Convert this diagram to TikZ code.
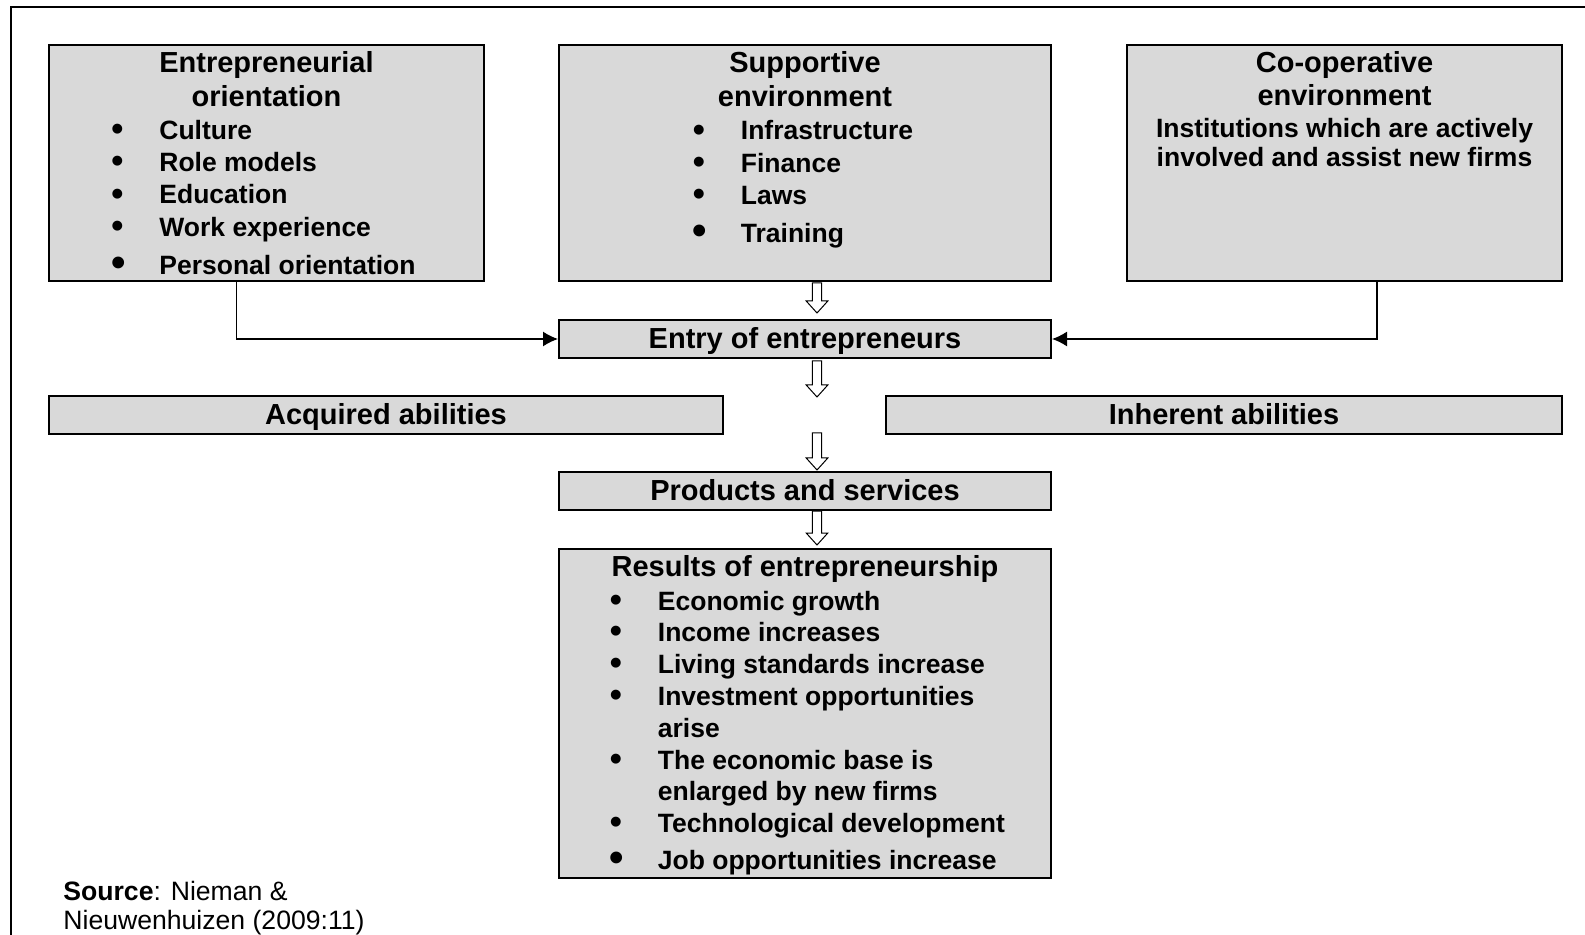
\documentclass[tikz,border=0pt]{standalone}
\usepackage{fontspec}
\setmainfont{Liberation Sans}
\usetikzlibrary{arrows.meta,positioning}

\definecolor{boxgray}{RGB}{217,217,217}
\newcommand\bul{\makebox[24pt][l]{\raisebox{-0.6pt}{\scalebox{1.3}{\textbullet}}}}
\newcommand\bigbul{\makebox[24pt][l]{\raisebox{-1pt}{\scalebox{1.55}{\textbullet}}}}
\newcommand\noind{\hspace*{24pt}}
% hollow block arrow: x, top, tip
\newcommand\blockarrow[3]{%
  \draw[hollow] (#1-4.6,#2) -- (#1+4.6,#2) -- (#1+4.6,#3-12) -- (#1+10.8,#3-12)
    -- (#1,#3) -- (#1-10.8,#3-12) -- (#1-4.6,#3-12) -- cycle;}

\tikzset{
  box/.style={draw, line width=1pt, fill=boxgray, inner sep=0pt},
  bar/.style={box, minimum height=19pt, text height=11.5pt, text depth=2pt,
    font=\fontsize{14.5}{16.2}\selectfont\bfseries},
  head/.style={inner sep=0pt, anchor=base,
    font=\fontsize{14.5}{16.65}\selectfont\bfseries},
  items/.style={inner sep=0pt, anchor=base west,
    font=\fontsize{13.25}{16.15}\selectfont\bfseries},
  link/.style={line width=0.75pt, -{Latex[length=7.5pt,width=7.5pt]}},
  hollow/.style={draw, line width=0.5pt, fill=white},
}

\begin{document}
\begin{tikzpicture}[x=0.5pt,y=-0.5pt]
	\useasboundingbox (0,0) rectangle (1585,935);
	%Frame
	\draw[line width=1pt] (11,935) -- (11,7) -- (1585,7);
	%Top boxes
	\node[box, minimum width=217.5pt, minimum height=118pt] (eo) at (266.5,163) {};
	\node[box, minimum width=246pt, minimum height=118pt] (se) at (805,163) {};
	\node[box, minimum width=217.5pt, minimum height=118pt] (ce) at (1344.5,163) {};
	%Entrepreneurial orientation
	\node[head] (eotitle) at (266.5,73) {\begin{tabular}[t]{@{}c@{}}Entrepreneurial\\ orientation\end{tabular}};
	\node[items] (eolist) at (111,139.3) {\begin{tabular}[t]{@{}l@{}}
		\bul Culture\\ \bul Role models\\ \bul Education\\ \bul Work experience\\[2.85pt]
		\bigbul Personal orientation\end{tabular}};
	%Supportive environment
	\node[head] (setitle) at (805,73) {\begin{tabular}[t]{@{}c@{}}Supportive\\ environment\end{tabular}};
	\node[items] (selist) at (692.5,140) {\begin{tabular}[t]{@{}l@{}}
		\bul Infrastructure\\ \bul Finance\\ \bul Laws\\[2.85pt]
		\bigbul Training\end{tabular}};
	%Co-operative environment
	\node[head] (cetitle) at (1344.5,72.5) {\begin{tabular}[t]{@{}c@{}}Co-operative\\ environment\end{tabular}};
	\node[head, font=\fontsize{13.25}{14.7}\selectfont\bfseries] (cetext) at (1344.5,137.3)
		{\begin{tabular}[t]{@{}c@{}}Institutions which are actively\\ involved and assist new firms\end{tabular}};
	%Middle bars
	\node[bar, minimum width=246pt] (entry) at (805,339) {Entry of entrepreneurs};
	\node[bar, minimum width=337pt] (acq) at (386,415) {Acquired abilities};
	\node[bar, minimum width=338pt] (inh) at (1224,415) {Inherent abilities};
	\node[bar, minimum width=246pt] (prod) at (805,491) {Products and services};
	%Results
	\node[box, minimum width=246pt, minimum height=164.5pt] (res) at (805,713.5) {};
	\node[head] (restitle) at (805,576.7) {Results of entrepreneurship};
	\node[items, font=\fontsize{13.25}{15.9}\selectfont\bfseries] (reslist) at (609.5,610) {\begin{tabular}[t]{@{}l@{}}
		\bul Economic growth\\ \bul Income increases\\ \bul Living standards increase\\
		\bul Investment opportunities\\ \noind arise\\ \bul The economic base is\\
		\noind enlarged by new firms\\ \bul Technological development\\[2.8pt]
		\bigbul Job opportunities increase\end{tabular}};
	%Collegamenti
	\draw[link] (eo.south) ++(-30,0) |- (entry.west);
	\draw[link] (ce.south) ++(32.5,0) |- (entry.east);
	\blockarrow{817}{283}{313}
	\blockarrow{817}{361}{397}
	\blockarrow{817}{433}{470}
	\blockarrow{817}{511}{545}
	%Source
	\node[anchor=base west, inner sep=0pt, font=\fontsize{13.3}{14.25}\selectfont] (src) at (63,900.5)
		{\begin{tabular}[t]{@{}l@{}}\textbf{Source}: Nieman \&\\ Nieuwenhuizen (2009:11)\end{tabular}};
\end{tikzpicture}
\end{document}
